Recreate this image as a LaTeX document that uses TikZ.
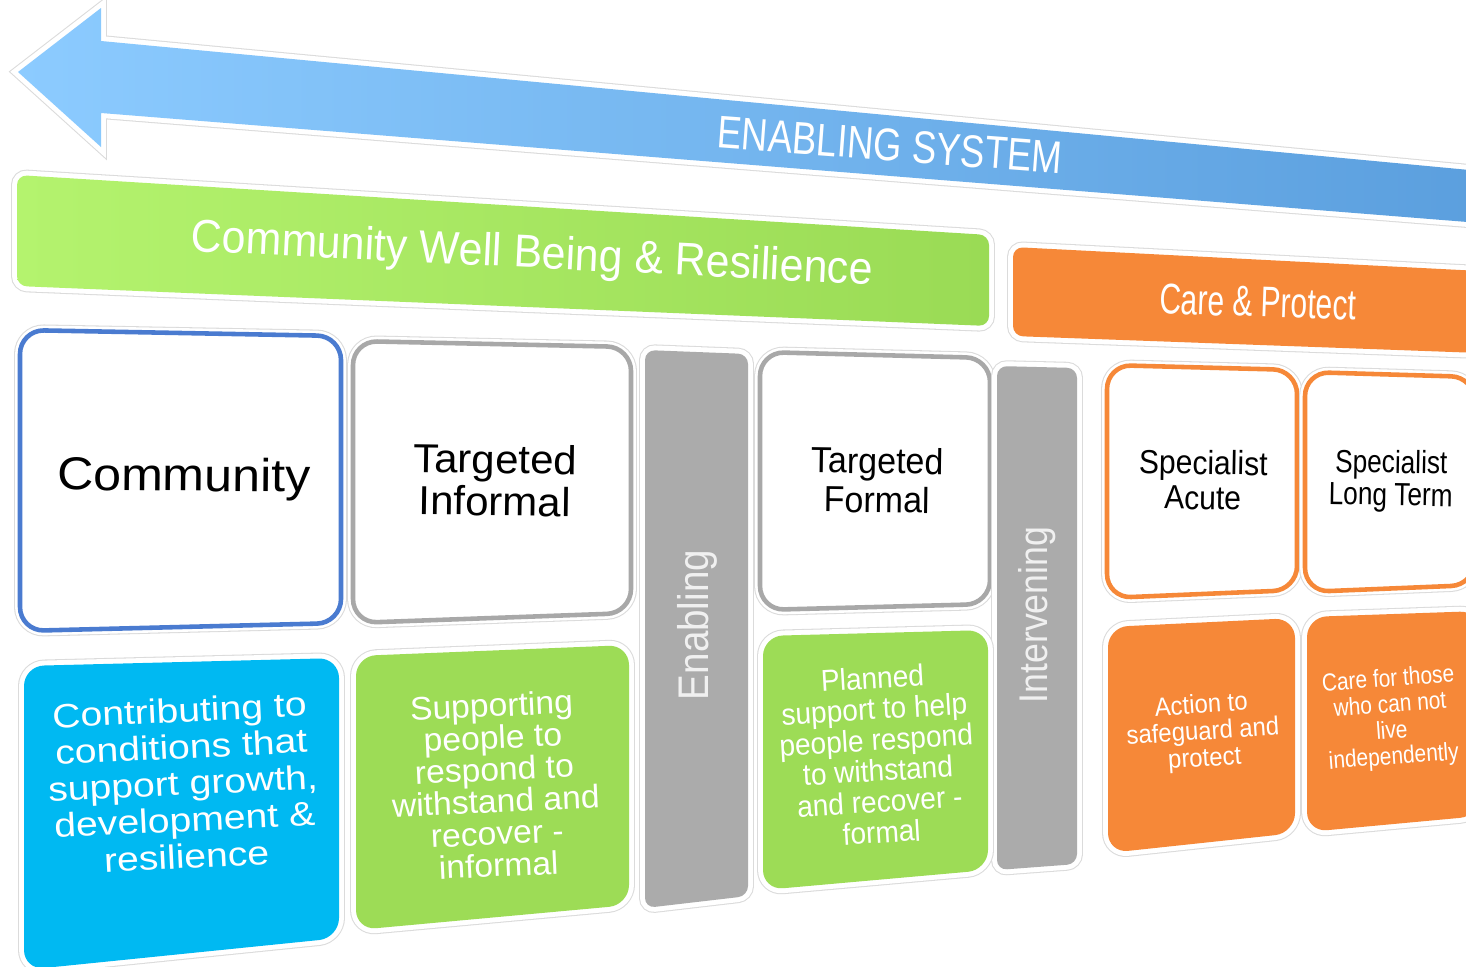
\documentclass[tikz,border=0pt]{standalone}
\usepackage{fontspec}
\usepackage{graphicx}
\setmainfont{Liberation Sans}
\usepackage{tikz}
\definecolor{arrowL}{HTML}{8CCBFF}
\definecolor{arrowR}{HTML}{5B9FDE}
\definecolor{wellL}{HTML}{B4F36E}
\definecolor{wellR}{HTML}{9ADB55}
\definecolor{careorange}{HTML}{F68838}
\definecolor{commblue}{HTML}{4A7BD0}
\definecolor{boxgrey}{HTML}{A8A8A8}
\definecolor{bargrey}{HTML}{ABABAB}
\definecolor{contribcyan}{HTML}{00B9F2}
\definecolor{leafgreen}{HTML}{9DDC56}
\lineskiplimit=-100pt

\begin{document}
\begin{tikzpicture}[x=0.1mm, y=-0.1mm,
  halo/.style={preaction={draw=black!14, line width=3.4pt}, preaction={draw=white, line width=2.8pt}},
  topbox/.style={halo, fill=white, rounded corners=2.4mm, line width=1.3pt},
  lowbox/.style={halo, rounded corners=2mm},
  bar/.style={halo, fill=bargrey, rounded corners=1mm},
  label/.style={text=white, align=center, inner sep=0pt},
  dark/.style={text=black, align=center, inner sep=0pt}]
\useasboundingbox (0,0) rectangle (1466,966);
\shade[halo, left color=arrowL, right color=arrowR] (18,72) -- (101,8) -- (101,41) -- (1480,171) -- (1480,223) -- (101,113) -- (101,147) -- cycle;
\shade[halo, left color=wellL, right color=wellR, rounded corners=1mm] (17,175) -- (989,235) -- (989,326) -- (17,286) -- cycle;
\fill[halo, careorange, rounded corners=1mm] (1013,247) -- (1480,271) -- (1480,353) -- (1013,336) -- cycle;
\draw[topbox, draw=commblue] (20,330) -- (341,336) -- (341,623) -- (20,631) -- cycle;
\draw[topbox, draw=boxgrey] (353,341) -- (631,347) -- (631,613) -- (353,623) -- cycle;
\fill[bar] (645,350) -- (748,354) -- (748,896) -- (645,908) -- cycle;
\draw[topbox, draw=boxgrey] (760,352) -- (990,358) -- (990,604) -- (760,610) -- cycle;
\fill[bar] (997,366) -- (1077,368) -- (1077,864) -- (997,870) -- cycle;
\draw[topbox, draw=careorange] (1107,365) -- (1297,370) -- (1297,590) -- (1107,598) -- cycle;
\draw[topbox, draw=careorange] (1305,372) -- (1475,377) -- (1475,585) -- (1305,592) -- cycle;
\fill[lowbox, contribcyan] (24,666) -- (339,658) -- (339,938) -- (24,970) -- cycle;
\fill[lowbox, leafgreen] (356,656) -- (629,645) -- (629,905) -- (356,930) -- cycle;
\fill[lowbox, leafgreen] (763,636) -- (988,630) -- (988,870) -- (763,890) -- cycle;
\fill[lowbox, careorange] (1108,627) -- (1295,618) -- (1295,833) -- (1108,853) -- cycle;
\fill[lowbox, careorange] (1307,617) -- (1480,611) -- (1480,816) -- (1307,832) -- cycle;
\node[label, rotate=-4.3, xscale=0.8, font=\fontsize{13}{13}\selectfont] (system) at (890,145) {ENABLING SYSTEM};
\node[label, rotate=-2.8, xscale=0.93, font=\fontsize{13.1}{13}\selectfont] (wellbeing) at (532,256) {Community Well Being \& Resilience};
\node[label, rotate=-2, xscale=0.7, font=\fontsize{12.2}{12}\selectfont] (careprotect) at (1258,302) {Care \& Protect};
\node[dark, rotate=-0.5, xscale=1.09, font=\fontsize{13.1}{13}\selectfont] (community) at (184,479) {Community};
\node[dark, rotate=-0.8, xscale=1.04, font=\fontsize{11.5}{12}\selectfont] (informal) at (495,480) {Targeted\\Informal};
\node[dark, rotate=-0.8, xscale=0.94, font=\fontsize{10.3}{11.1}\selectfont] (formal) at (877,480) {Targeted\\Formal};
\node[dark, rotate=-1, xscale=0.9, font=\fontsize{9.5}{10}\selectfont] (acute) at (1203,480) {Specialist\\Acute};
\node[dark, rotate=-1, xscale=0.82, font=\fontsize{9.1}{9.2}\selectfont] (longterm) at (1391,481) {Specialist\\Long Term};
\node[label, text=white!94!black, rotate=90, xscale=0.9, font=\fontsize{12.2}{12}\selectfont] (enabling) at (697,625) {Enabling};
\node[label, text=white!94!black, rotate=90, xscale=0.89, font=\fontsize{11.4}{11}\selectfont] (intervening) at (1037,615) {Intervening};
\node[label, rotate=2.8, xscale=1.16, font=\fontsize{9.6}{10.4}\selectfont] (contrib) at (183,783) {Contributing to\\conditions that\\support growth,\\development \&\\resilience};
\node[label, rotate=2.6, xscale=1.03, font=\fontsize{9.3}{9.1}\selectfont] (supporting) at (495,785) {Supporting\\people to\\respond to\\withstand and\\recover -\\informal};
\node[label, rotate=3.4, xscale=0.93, font=\fontsize{8.6}{8.8}\selectfont] (planned) at (877,755) {Planned\\support to help\\people respond\\to withstand\\and recover -\\formal};
\node[label, rotate=3.8, xscale=0.92, font=\fontsize{7.4}{7.6}\selectfont] (safeguard) at (1203,733) {Action to\\safeguard and\\protect};
\node[label, rotate=4.2, xscale=0.85, font=\fontsize{7}{7.4}\selectfont] (carefor) at (1391,719) {Care for those\\who can not\\live\\independently};
\end{tikzpicture}
\end{document}
